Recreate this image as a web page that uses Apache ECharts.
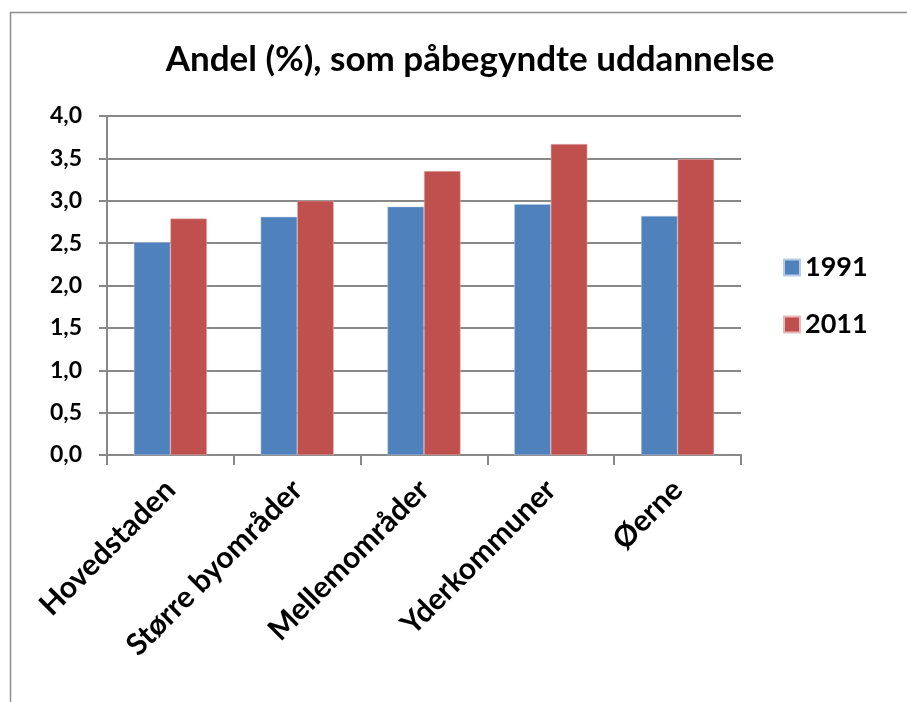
<!DOCTYPE html>
<html><head><meta charset="utf-8">
<script src="https://cdn.jsdelivr.net/npm/echarts@6/dist/echarts.min.js"></script>
<style>html,body{margin:0;padding:0;background:#fff}#c{width:907px;height:702px}</style>
</head><body><div id="c"></div>
<script>
const categories = ['Hovedstaden', 'Større byområder', 'Mellemområder', 'Yderkommuner', 'Øerne'];
const s1991 = [2.51, 2.81, 2.93, 2.96, 2.82];
const s2011 = [2.79, 3.00, 3.35, 3.67, 3.49];
const seriesNames = ['1991', '2011'];
const font = 'Lato';
const chart = echarts.init(document.getElementById('c'), null, {renderer: 'canvas'});
chart.setOption({
  animation: false,
  backgroundColor: '#fff',
  graphic: [{type: 'rect', shape: {x: 10.5, y: 12.5, width: 1000, height: 1000}, style: {fill: 'none', stroke: '#8c8c8c', lineWidth: 1.5}, silent: true}],
  title: {text: 'Andel (%), som påbegyndte uddannelse', left: 465, textAlign: 'center', top: 37,
    textStyle: {fontFamily: font, fontWeight: 'bold', fontSize: 35, color: '#000'}},
  legend: {orient: 'vertical', left: 778, top: 249, itemGap: 30, itemWidth: 16, itemHeight: 16, icon: 'rect',
    textStyle: {fontFamily: font, fontWeight: 'bold', fontSize: 27, color: '#000'}, data: seriesNames},
  grid: {left: 107, right: 166, top: 116, bottom: 247, containLabel: false},
  xAxis: {type: 'category', data: categories,
    axisLine: {lineStyle: {color: '#888', width: 2}},
    axisTick: {show: true, length: 10, lineStyle: {color: '#888', width: 2}, alignWithLabel: false},
    axisLabel: {rotate: 45, interval: 0, margin: 30, fontFamily: font, fontWeight: 'bold', fontSize: 30, color: '#000'}},
  yAxis: {type: 'value', min: 0, max: 4, interval: 0.5,
    axisLine: {show: true, lineStyle: {color: '#888', width: 2}},
    axisTick: {show: true, length: 8, lineStyle: {color: '#888', width: 2}},
    splitLine: {lineStyle: {color: '#888', width: 2}},
    axisLabel: {margin: 25, fontFamily: font, fontWeight: 'bold', fontSize: 23, color: '#000',
      formatter: v => v.toFixed(1).replace('.', ',')}},
  series: [
    {name: seriesNames[0], type: 'bar', data: s1991, barGap: '0%', barCategoryGap: '42.4%',
      itemStyle: {color: '#4F81BD', borderColor: '#b9cde5', borderWidth: 0.5}},
    {name: seriesNames[1], type: 'bar', data: s2011, barGap: '0%', barCategoryGap: '42.4%',
      itemStyle: {color: '#C0504D', borderColor: '#e6b9b8', borderWidth: 0.5}}
  ]
});
</script></body></html>
